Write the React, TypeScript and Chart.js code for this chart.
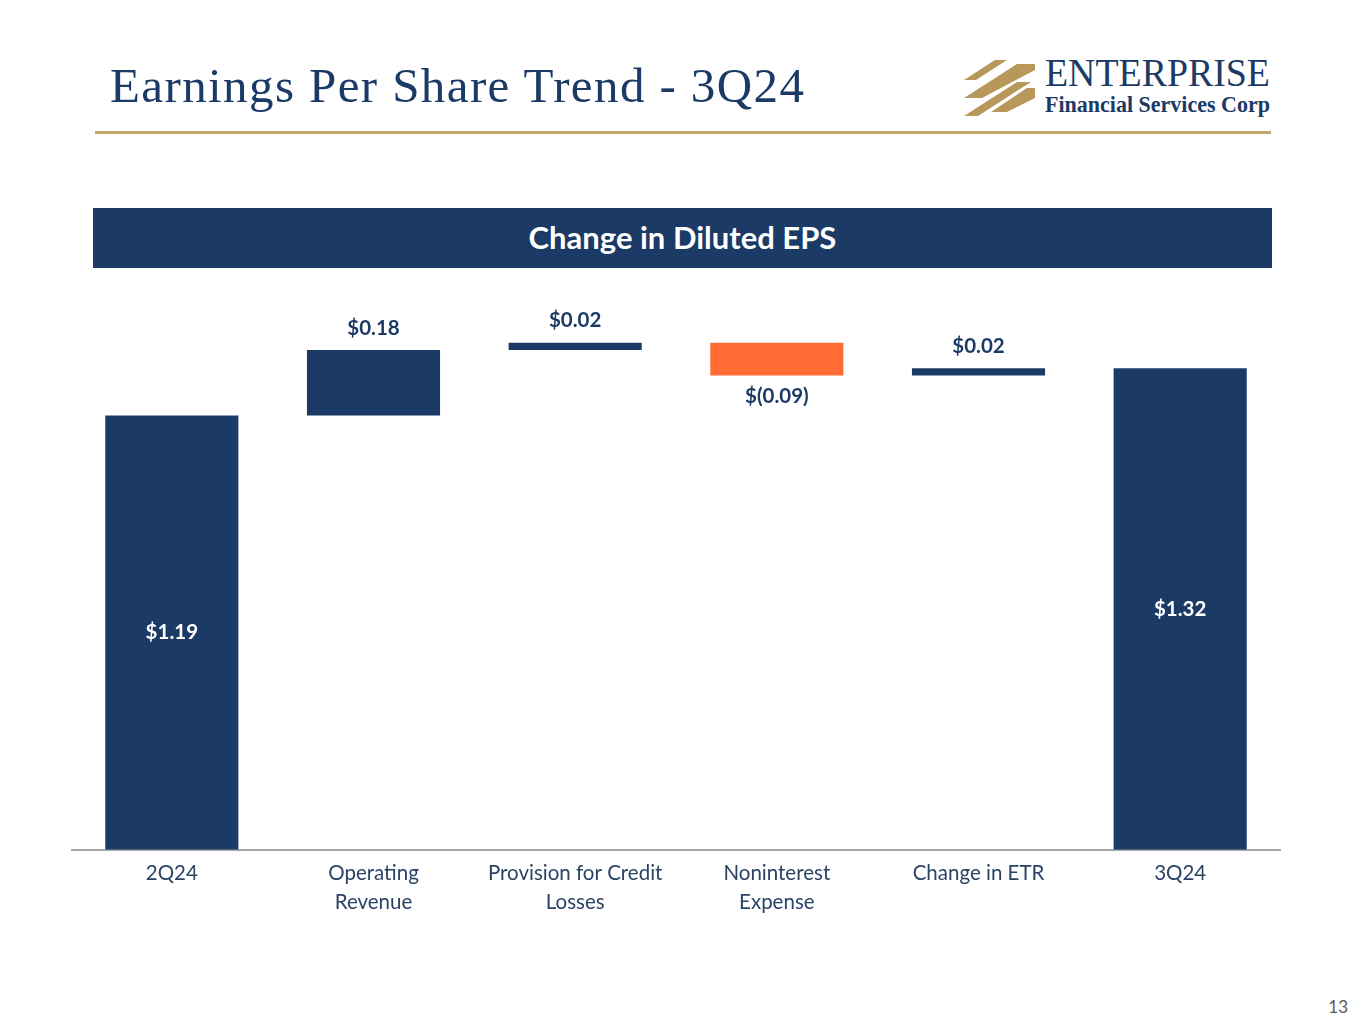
import React, { useEffect, useRef } from "react";
import { Chart, registerables } from "chart.js";

Chart.register(...registerables);

const categories: (string | string[])[] = [
  "2Q24",
  ["Operating", "Revenue"],
  ["Provision for Credit", "Losses"],
  ["Noninterest", "Expense"],
  "Change in ETR",
  "3Q24",
];
const startValue = 1.19;
const changes = [0.18, 0.02, -0.09, 0.02];
const endValue = 1.32;
const labelTexts = ["$1.19", "$0.18", "$0.02", "$(0.09)", "$0.02", "$1.32"];

const NAVY = "#1b3a65";
const ORANGE = "#ff6b35";
const FONT = "Lato, 'Open Sans', sans-serif";

const labelPlugin = {
  id: "wfLabels",
  afterDatasetsDraw(chart: any) {
    const ctx = chart.ctx;
    const meta = chart.getDatasetMeta(0);
    const raw = chart.data.datasets[0].data as number[][];
    ctx.save();
    ctx.font = `bold 20.5px ${FONT}`;
    ctx.textAlign = "center";
    ctx.textBaseline = "middle";
    meta.data.forEach((el: any, i: number) => {
      const [a, b] = raw[i];
      const top = Math.min(el.y, el.base);
      const bottom = Math.max(el.y, el.base);
      let y: number;
      ctx.fillStyle = NAVY;
      if (i === 0 || i === raw.length - 1) {
        y = (top + bottom) / 2;
        ctx.fillStyle = "#ffffff";
      } else if (b < a) y = bottom + 21;
      else y = top - 22;
      ctx.fillText(labelTexts[i], el.x, y);
    });
    ctx.restore();
  },
};

function WaterfallChart() {
  const ref = useRef<HTMLCanvasElement>(null);
  useEffect(() => {
    if (!ref.current) return;
    const data: number[][] = [];
    data.push([0, startValue]);
    let running = startValue;
    changes.forEach((c) => {
      const next = Math.round((running + c) * 100) / 100;
      data.push([running, next]);
      running = next;
    });
    data.push([0, endValue]);
    const colors = data.map((d, i) =>
      i > 0 && i < data.length - 1 && d[1] < d[0] ? ORANGE : NAVY
    );
    const chart = new Chart(ref.current, {
      type: "bar",
      data: {
        labels: categories,
        datasets: [
          {
            data: data as any,
            backgroundColor: colors,
            borderWidth: 0,
            borderSkipped: false,
            categoryPercentage: 1,
            barPercentage: 0.66,
          },
        ],
      },
      options: {
        animation: false,
        responsive: false,
        maintainAspectRatio: false,
        layout: { padding: 0 },
        plugins: { legend: { display: false }, tooltip: { enabled: false } },
        scales: {
          x: {
            grid: { display: false, drawTicks: false },
            border: { display: true, color: "#a6a6a6", width: 2 },
            ticks: {
              color: "#2b4466",
              font: { family: FONT, size: 20.5, lineHeight: 1.37 },
              padding: 10,
              maxRotation: 0,
              autoSkip: false,
            },
          },
          y: {
            display: false,
            min: 0,
            max: 1.6,
          },
        },
      },
      plugins: [labelPlugin],
    });
    return () => chart.destroy();
  }, []);
  return (
    <canvas
      ref={ref}
      width={1210}
      height={660}
      style={{ position: "absolute", left: 71, top: 266, width: 1210, height: 660 }}
    />
  );
}

function Logo() {
  const gold = "#b8985a";
  return (
    <svg
      width={320}
      height={80}
      style={{ position: "absolute", left: 955, top: 50 }}
      viewBox="0 0 320 80"
    >
      <polygon points="9,30 40,10 52,10 21,30" fill={gold} />
      <polygon points="9,48 62,14 80,14 80,20 27,48" fill={gold} />
      <polygon points="9,66 62,32 76,32 23,66" fill={gold} />
      <polygon points="36,62 72,38 80,38 80,48 52,62" fill={gold} />
      <text
        x={90}
        y={36}
        fontFamily="'Liberation Serif', 'Times New Roman', serif"
        fontSize={41}
        fill="#1b3a65"
        textLength={225}
        lengthAdjust="spacingAndGlyphs"
      >
        ENTERPRISE
      </text>
      <text
        x={90}
        y={62}
        fontFamily="'Liberation Serif', 'Times New Roman', serif"
        fontSize={23}
        fontWeight="bold"
        fill="#1b3a65"
        textLength={225}
        lengthAdjust="spacingAndGlyphs"
      >
        Financial Services Corp
      </text>
    </svg>
  );
}

export default function App() {
  return (
    <div
      style={{
        position: "absolute",
        left: 0,
        top: 0,
        width: 1365,
        height: 1024,
        background: "#ffffff",
        overflow: "hidden",
      }}
    >
      <div
        style={{
          position: "absolute",
          left: 110,
          top: 56,
          fontFamily: "'Liberation Serif', 'Times New Roman', serif",
          fontSize: 49,
          letterSpacing: "1.4px",
          color: NAVY,
          whiteSpace: "nowrap",
          lineHeight: "60px",
        }}
      >
        Earnings Per Share Trend - 3Q24
      </div>
      <Logo />
      <div
        style={{
          position: "absolute",
          left: 95,
          top: 131,
          width: 1176,
          height: 3,
          background: "#c4a66c",
        }}
      />
      <div
        style={{
          position: "absolute",
          left: 93,
          top: 208,
          width: 1179,
          height: 60,
          background: NAVY,
          color: "#ffffff",
          fontFamily: FONT,
          fontWeight: "bold",
          fontSize: 31,
          lineHeight: "58px",
          textAlign: "center",
        }}
      >
        Change in Diluted EPS
      </div>
      <WaterfallChart />
      <div
        style={{
          position: "absolute",
          left: 1318,
          top: 996,
          width: 30,
          textAlign: "right",
          fontFamily: FONT,
          fontSize: 17,
          color: "#595959",
        }}
      >
        13
      </div>
    </div>
  );
}
